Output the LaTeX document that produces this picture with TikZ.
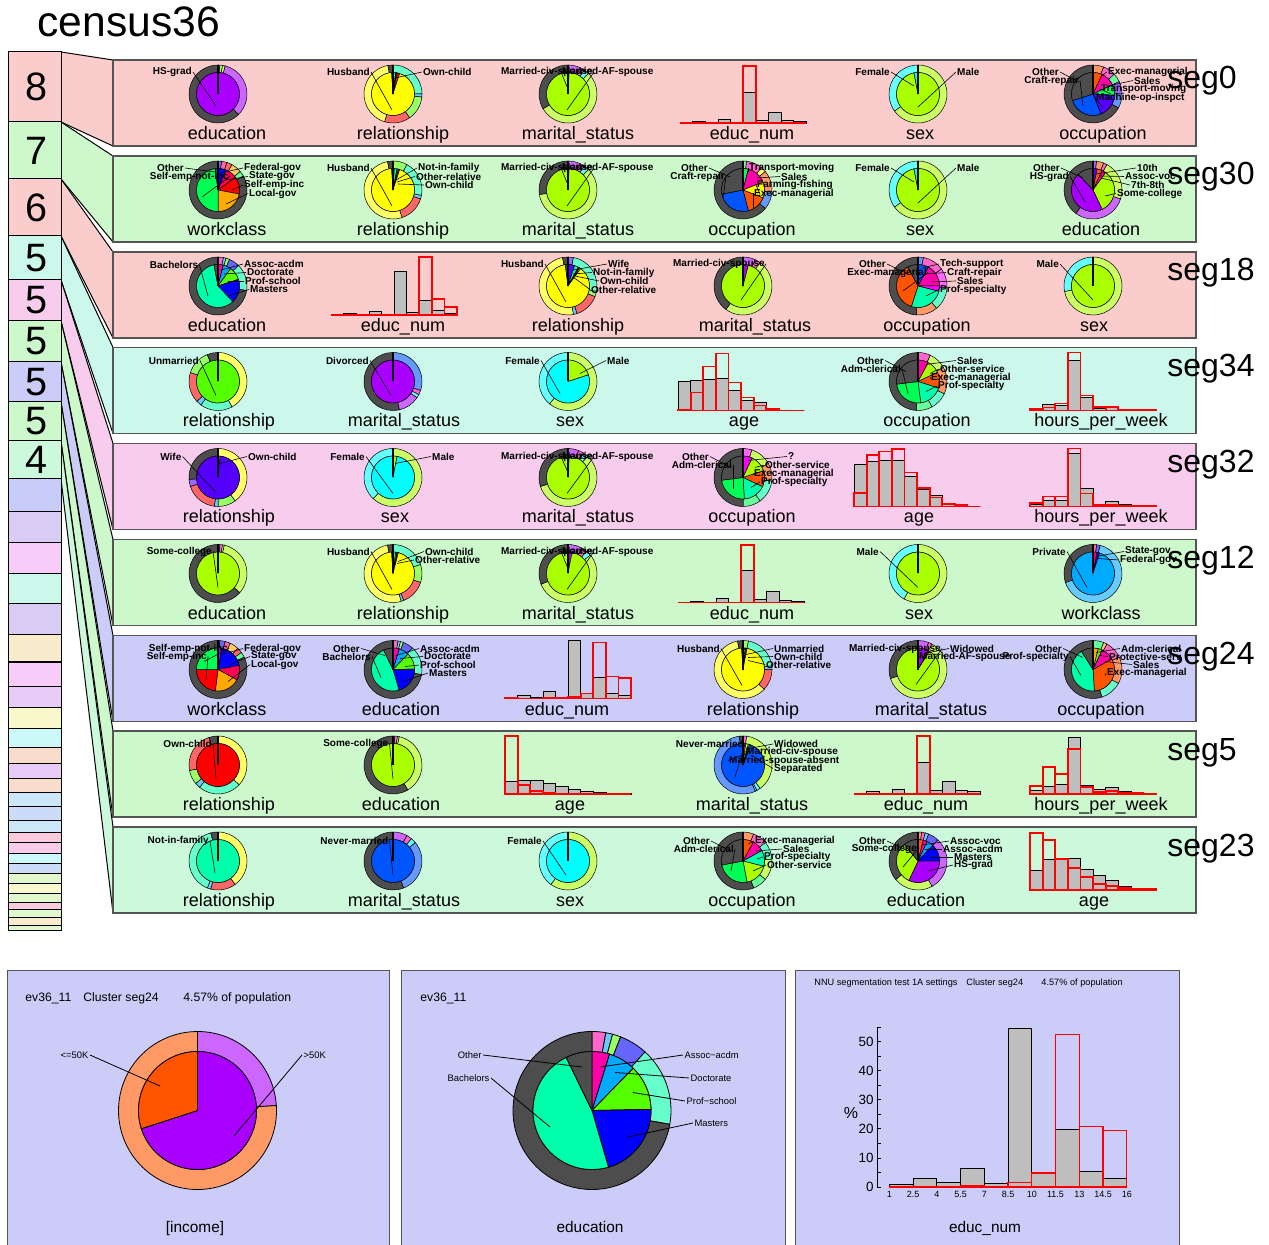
\documentclass[tikz,border=0pt]{standalone}
\usepackage{fontspec}
\setmainfont{Liberation Sans}
\definecolor{HS}{HTML}{AA00FF}
\definecolor{SC}{HTML}{AAFF00}
\definecolor{BA}{HTML}{00FFAA}
\definecolor{MA}{HTML}{0000FF}
\definecolor{AA}{HTML}{FF00AA}
\definecolor{DO}{HTML}{00AAFF}
\definecolor{PS}{HTML}{55FF00}
\definecolor{YE}{HTML}{FFFF00}
\definecolor{CY}{HTML}{00FFFF}
\definecolor{OT}{HTML}{4D4D4D}
\definecolor{RE}{HTML}{FF0000}
\definecolor{OR}{HTML}{FF5500}
\definecolor{AM}{HTML}{FFAA00}
\definecolor{VI}{HTML}{5500FF}
\definecolor{RB}{HTML}{0055FF}
\definecolor{GR}{HTML}{00FF55}
\definecolor{PK}{HTML}{FF00FF}
\definecolor{CR}{HTML}{FF0055}
\colorlet{HSl}{HS!60!white}\colorlet{SCl}{SC!60!white}\colorlet{BAl}{BA!60!white}
\colorlet{MAl}{MA!60!white}\colorlet{AAl}{AA!60!white}\colorlet{DOl}{DO!60!white}
\colorlet{PSl}{PS!60!white}\colorlet{YEl}{YE!60!white}\colorlet{CYl}{CY!60!white}
\colorlet{REl}{RE!60!white}\colorlet{ORl}{OR!60!white}\colorlet{AMl}{AM!60!white}
\colorlet{VIl}{VI!60!white}\colorlet{RBl}{RB!60!white}\colorlet{GRl}{GR!60!white}
\colorlet{PKl}{PK!60!white}\colorlet{CRl}{CR!60!white}
\definecolor{pPink}{HTML}{FACCCC}
\definecolor{pGreen}{HTML}{CCF8CC}
\definecolor{pMint}{HTML}{CCF8EC}
\definecolor{pRose}{HTML}{F8CCEC}
\definecolor{pBlue}{HTML}{CCCCF8}
\definecolor{pSea}{HTML}{CCF8DC}
\definecolor{pborder}{HTML}{555555}
\definecolor{histgray}{HTML}{BEBEBE}
\newcounter{lbc}
\newcounter{axc}
\newcommand\slicelist[3]{%
  \gdef\curang{-90}%
  \foreach \pv/\pc in {#3}{%
    \pgfmathsetmacro\nxt{\curang+\pv*3.6}%
    \ifdim #1pt=0pt\relax
      \filldraw[slice,fill=\pc] (0,0) -- (\curang:#2) arc[start angle=\curang,end angle=\nxt,radius=#2] -- cycle;
    \else
      \filldraw[slice,fill=\pc] (\curang:#1) -- (\curang:#2) arc[start angle=\curang,end angle=\nxt,radius=#2] -- (\nxt:#1) arc[start angle=\nxt,end angle=\curang,radius=#1] -- cycle;
    \fi
    \global\let\curang\nxt
  }%
}
\newcommand\mypie[5]{%
  \begin{scope}[shift={(#1,#2)}]
    \slicelist{21.5}{29}{#4}%
    \slicelist{0}{21.5}{#3}%
    \draw[line width=0.9pt] (0,0) -- (0,-29);
    \foreach \lx/\ly/\an/\tx/\ty/\ltxt in {#5}{%
      \stepcounter{lbc}%
      \node[plab,anchor=\an] (pl\thelbc) at (\lx,\ly) {\ltxt};
      \coordinate (pt\thelbc) at (\tx,\ty);
      \draw[pline] (pl\thelbc.\an) -- (pt\thelbc);
    }%
  \end{scope}%
}
\newcommand\myhist[4]{%
  \foreach \hh [count=\ii from 0] in {#3}{%
    \filldraw[fill=histgray,draw=black,line width=0.3pt] ({#1+\ii*12.6},#2) rectangle ++(12.6,-\hh);
  }%
  \foreach \hh [count=\ii from 0] in {#4}{%
    \draw[red,line width=0.9pt] ({#1+\ii*12.6},#2) rectangle ++(12.6,-\hh);
  }%
}
\newcommand\axl[3]{\stepcounter{axc}\node[axlab] (ax\theaxc) at (#1,#2) {#3};}
\newcommand\mypanel[6]{%
  \fill[#2] (61,#4) -- (113,#1) -- (113,{#1+86}) -- (61,#5) -- cycle;
  \draw[line width=0.5pt] (61,#4) -- (113,#1) (61,#5) -- (113,{#1+86});
  \filldraw[fill=#2,draw=pborder,line width=0.9pt] (113,#1) rectangle (1196,{#1+86});
  \node[seglab] (#6) at (1167,{#1+29}) {#3};
}
\begin{document}
\begin{tikzpicture}[x=0.5pt,y=-0.5pt,
  slice/.style={draw=black,line width=0.25pt},
  plab/.style={font=\fontsize{5}{5}\selectfont\bfseries,inner sep=0.4pt},
  pline/.style={line width=0.3pt},
  blab/.style={font=\fontsize{4.7}{5}\selectfont,inner sep=0.6pt},
  axlab/.style={font=\fontsize{9}{9}\selectfont,inner sep=0pt,anchor=base},
  seglab/.style={font=\fontsize{16}{16}\selectfont,inner sep=0pt,anchor=base west},
  numlab/.style={font=\fontsize{19.8}{20}\selectfont,inner sep=0pt},
  ttl/.style={font=\fontsize{6.1}{6}\selectfont,inner sep=0pt,anchor=west}]
\useasboundingbox (0,0) rectangle (1269,1245);
\fill[white] (0,0) rectangle (1269,1245);
\begin{scope}
\clip (0,0) rectangle (1269,1245);

\node[font=\fontsize{21.3}{22}\selectfont,inner sep=0pt,anchor=base west] (title) at (37,36.7) {census36};

% ---------- panels ----------
\mypanel{60}{pPink}{seg0}{52}{122}{s0}
\mypanel{156}{pGreen}{seg30}{122}{179}{s1}
\mypanel{252}{pPink}{seg18}{179}{236}{s2}
\mypanel{347.5}{pMint}{seg34}{236}{280}{s3}
\mypanel{443.5}{pRose}{seg32}{280}{321}{s4}
\mypanel{539.5}{pGreen}{seg12}{321}{362}{s5}
\mypanel{635.5}{pBlue}{seg24}{362}{402}{s6}
\mypanel{731}{pGreen}{seg5}{402}{441}{s7}
\mypanel{827}{pSea}{seg23}{441}{479}{s8}

% ---------- left column ----------
\foreach \ta/\tb/\cc/\nn [count=\k] in {52/122/pPink/8,122/179/pGreen/7,179/236/pPink/6,236/280/pMint/5,280/321/pRose/5,321/362/pGreen/5,362/402/pBlue/5,402/441/pGreen/5,441/479/pSea/4}{
  \filldraw[fill=\cc,draw=black,line width=0.5pt] (8,\ta) rectangle (61,\tb);
  \node[numlab] (num\k) at (37,{(\ta+\tb)/2}) {\nn};
}
\foreach \ta/\tb/\hc in {479/512/C8CCF8,512/543/D8CCF4,543/574/F8CCF8,574/604/CCF8EC,604/635/D8CCF4,635/662/F8ECCC,662/686/F8CCF8,686/707/E8CCF8,707/728/F8F8CC,728/747/CCF8F8,747/763/F8DCCC,763/778/E8CCF8,778/792/F8DCCC,792/806/CCE8F8,806/820/CCDCF8,820/832/CCE8F8,832/842/F8CCDC,842/853/F8CCE8,853/863/CCF8F8,863/873/CCDCF8,873/883/E0F8CC,883/893/F8F8CC,893/902/E0F8CC,902/909/F8CCDC,909/917/E0F8CC,917/925/F8ECCC,925/930/E0F8CC}{
  \edef\tmpdef{\noexpand\definecolor{tmpc}{HTML}{\hc}}\tmpdef
  \filldraw[fill=tmpc,draw=black,line width=0.5pt] (8,\ta) rectangle (61,\tb);
}

% ---------- seg0 ----------
\mypie{218}{94}{100/HS}{1/AAl,1.5/PSl,1.5/SCl,33.5/HSl,62.5/OT}{-25/-22/east/-2/12/HS-grad}
\mypie{393}{94}{2/BA,0.5/DO,0.5/PS,2/RE,94/YE,1/OT}{25/BAl,1.7/DOl,13.6/PSl,14.4/REl,42.5/YEl,2.8/OT}{-22/-22/east/-1/16/Husband,29/-22/west/2/-16/Own-child}
\mypie{568}{94}{0.5/HS,0.3/AA,99.2/SC}{7/HSl,2.5/AAl,3/CYl,54/SCl,33.5/OT}{26/-22/east/-1/16/Married-civ-spouse,-7/-22/west/0/-5/Married-AF-spouse}
\myhist{680}{123}{0.3,1.5,0,3.5,0,31,2.5,11,2.5,1.5}{0,0,0,0,0,57,0,0,0,0}
\mypie{918}{94}{97/SC,3/CY}{65/SCl,35/CYl}{-27/-22/east/-4/-8/Female,38/-22/west/0/13/Male}
\mypie{1093}{94}{7/OR,11/AA,8/GR,18/VI,26/RB,30/OT}{6/ORl,7/AAl,5/GRl,7/VIl,8/RBl,67/OT}{-33/-22/east/-14/-12/Other,-13/-13.5/east/-10/12/Craft-repair,14/-22/west/8/-18/Exec-managerial,40/-13.5/west/15/-8/Sales,7/-5/west/18/0/Transport-moving,2/3.5/west/10/14/Machine-op-inspct}
\axl{227}{139.5}{education}\axl{403}{139.5}{relationship}\axl{578}{139.5}{marital\_status}
\axl{752}{139.5}{educ\_num}\axl{920}{139.5}{sex}\axl{1103}{139.5}{occupation}

% ---------- seg30 ----------
\mypie{218}{190}{6/MA,9/CR,13/RE,22/AM,48/GR,2/OT}{2/MAl,3/CRl,3/REl,6/AMl,3/GRl,83/OT}{-33/-22/east/-3/-18/Other,12/-13.5/east/-16/7/Self-emp-not-inc,25/-22/west/3/-17/Federal-gov,30/-13.5/west/8/-10/State-gov,25/-5/west/14/0/Self-emp-inc,30/3.5/west/8/14/Local-gov}
\mypie{393}{190}{1/PS,2/BA,1/DO,1/RE,94/YE,1/OT}{8/PSl,20/BAl,2/DOl,15/REl,52/YEl,3/OT}{-22/-22/east/-1/16/Husband,24/-22/west/3/-10/Not-in-family,22/-13.5/west/4/-8/Other-relative,31/-5/west/5/-6/Own-child}
\mypie{568}{190}{0.5/HS,0.3/AA,99.2/SC}{7/HSl,2.5/AAl,3/CYl,60/SCl,27.5/OT}{26/-22/east/-1/16/Married-civ-spouse,-7/-22/west/0/-5/Married-AF-spouse}
\mypie{743}{190}{4/GR,15/AA,12/YE,15/OR,26/RB,28/OT}{2/GRl,9/AAl,3/YEl,12/ORl,10/RBl,64/OT}{-34/-22/east/-13/-13/Other,-17/-13.5/east/-20/8/Craft-repair,5/-22/west/5/-18/Transport-moving,37/-13.5/west/14/-12/Sales,13/-5/west/17/4/Farming-fishing,10/3.5/west/10/18/Exec-managerial}
\mypie{918}{190}{97/SC,3/CY}{65/SCl,35/CYl}{-27/-22/east/-4/-8/Female,38/-22/west/0/13/Male}
\mypie{1093}{190}{3/VI,4/OR,3/AA,33/SC,45/HS,12/OT}{2/VIl,4/ORl,2/AAl,22/SCl,30/HSl,40/OT}{-32/-22/east/-10/-12/Other,-23/-13.5/east/-8/12/HS-grad,43/-22/west/3/-16/10th,31/-13.5/west/6/-14/Assoc-voc,37/-5/west/8/-12/7th-8th,23/3.5/west/12/6/Some-college}
\axl{227}{235.5}{workclass}\axl{403}{235.5}{relationship}\axl{578}{235.5}{marital\_status}
\axl{752}{235.5}{occupation}\axl{920}{235.5}{sex}\axl{1101}{235.5}{education}

% ---------- seg18 ----------
\mypie{218}{286}{4/AA,6/DO,10/PS,18/MA,59/BA,3/OT}{3/AAl,1.5/DOl,2/PSl,6/MAl,15/BAl,72.5/OT}{-18.5/-21/east/-10/10/Bachelors,25/-22/west/3/-16/Assoc-acdm,28/-13.5/west/6/-12/Doctorate,26/-5/west/10/-5/Prof-school,31/3.5/west/10/10/Masters}
\myhist{331}{315}{1,2,0.5,4,0,44,3,15,5,2}{0,0,0,0,0,0,0,58,16,8}
\mypie{568}{286}{5/VI,3/BA,1/RE,1/PS,88/YE,2/OT}{3/VIl,25/BAl,3/PSl,14/REl,2/DOl,50/YEl,3/OT}{-23/-22/east/-2/16/Husband,39/-22/west/5/-16/Wife,24/-13.5/west/5/-12/Not-in-family,31/-5/west/7/-10/Own-child,22/3.5/west/5/-9/Other-relative}
\mypie{743}{286}{4/HS,96/SC}{7/HSl,3/AAl,50/SCl,40/OT}{23/-22/east/-2/14/Married-civ-spouse}
\mypie{918}{286}{8/RB,17/AA,4/PK,26/BA,37/OR,8/OT}{3/RBl,12/AAl,11/PKl,13/BAl,12/ORl,49/OT}{-31/-22/east/-10/-12/Other,10/-13.5/east/-15/5/Exec-managerial,21/-22/west/4/-18/Tech-support,28/-13.5/west/8/-12/Craft-repair,38/-5/west/14/-4/Sales,21/3.5/west/8/10/Prof-specialty}
\mypie{1093}{286}{100/SC}{72/SCl,28/CYl}{-33/-22/east/0/14/Male}
\axl{227}{331.5}{education}\axl{403}{331.5}{educ\_num}\axl{578}{331.5}{relationship}
\axl{755}{331.5}{marital\_status}\axl{927}{331.5}{occupation}\axl{1094}{331.5}{sex}

% ---------- seg34 ----------
\mypie{218}{381.5}{100/PS}{42/YEl,18/BAl,3/DOl,17/REl,14/PSl,6/OT}{-18/-21/east/-2/14/Unmarried}
\mypie{393}{381.5}{100/HS}{30/RBl,2.5/AAl,2/CYl,12/HSl,53.5/OT}{-23/-21/east/-2/14/Divorced}
\mypie{568}{381.5}{20/SC,80/CY}{61/SCl,39/CYl}{-27/-21/east/-8/12/Female,38/-21/west/12/-8/Male}
\myhist{678}{410.5}{29,30,31,32,20,10,8,2,0.5,0}{1,18,44,57,28,13,5,1.5,0,0}
\mypie{918}{381.5}{8/AA,10/SC,12/OR,18/BA,25/GR,27/OT}{7/AAl,10/SCl,15/ORl,10/BAl,9/GRl,49/OT}{-33/-21/east/-12/-10/Other,-16/-12.5/east/-10/12/Adm-clerical,38/-21/west/8/-17/Sales,21/-12.5/west/12/-8/Other-service,12/-4/west/14/-2/Exec-managerial,19/4.5/west/8/10/Prof-specialty}
\myhist{1030}{410.5}{2,6,5,50,13.6,2.4,4.4,1,0.5,0.3}{1.5,3,7,58,15,3.4,3.4,1,0.5,0.3}
\axl{229}{427}{relationship}\axl{404}{427}{marital\_status}\axl{570}{427}{sex}
\axl{744}{427}{age}\axl{927}{427}{occupation}\axl{1101}{427}{hours\_per\_week}

% ---------- seg32 ----------
\mypie{218}{477.5}{1.5/YE,98.5/VI}{40/YEl,10/PSl,2/DOl,18/REl,4/VIl,26/OT}{-35.5/-21/east/-2/15/Wife,29/-21/west/2/-14/Own-child}
\mypie{393}{477.5}{3/SC,97/CY}{62/SCl,38/CYl}{-27/-21/east/0/16/Female,38/-21/west/2/-14/Male}
\mypie{568}{477.5}{1/HS,99/SC}{6/HSl,3/AAl,3/CYl,58/SCl,30/OT}{26/-21/east/-1/16/Married-civ-spouse,-7/-21/west/0/-5/Married-AF-spouse}
\mypie{743}{477.5}{7/PK,13/SC,12/OR,17/BA,24/GR,27/OT}{5/PKl,12/SCl,10/ORl,13/BAl,10/GRl,50/OT}{-33/-21/east/-12/-10/Other,-10/-12.5/east/-10/12/Adm-clerical,44/-21/west/5/-17/?,21/-12.5/west/12/-10/Other-service,10/-4/west/14/-2/Exec-managerial,17/4.5/west/8/10/Prof-specialty}
\myhist{854}{506.5}{42,45,46,46.6,30,16.7,11.6,3.4,1.4,0}{13.6,51.7,55,57.8,34,18.4,9,2.4,1.4,0}
\myhist{1030}{506.5}{2.4,6.5,6.5,53,17.7,1.7,5,1.7,0.7,0.3}{3.4,10,10,58,13,1.7,1.7,1,0.5,0.5}
\axl{229}{523}{relationship}\axl{395}{523}{sex}\axl{578}{523}{marital\_status}
\axl{752}{523}{occupation}\axl{919}{523}{age}\axl{1101}{523}{hours\_per\_week}

% ---------- seg12 ----------
\mypie{218}{573.5}{100/SC}{1/HSl,1.5/AAl,1/PSl,33/SCl,63.5/OT}{-5/-22/east/0/14/Some-college}
\mypie{393}{573.5}{2/BA,1/PS,1/RE,95/YE,1/OT}{20/BAl,10/PSl,14/REl,1.5/DOl,51.5/YEl,3/OT}{-22/-22/east/-1/16/Husband,31/-22/west/5/-12/Own-child,21/-13.5/west/4/-10/Other-relative}
\mypie{568}{573.5}{3/HS,97/SC}{8/HSl,3/AAl,3/CYl,55/SCl,31/OT}{26/-22/east/-1/16/Married-civ-spouse,-7/-22/west/0/-5/Married-AF-spouse}
\myhist{678}{602.5}{0.3,1.5,0,4,0,32,3,11.5,2.5,1.5}{0,0,0,0,0,57.5,0,0,0,0}
\mypie{918}{573.5}{100/SC}{58/SCl,42/CYl}{-38/-22/east/0/14/Male}
\mypie{1093}{573.5}{3/CR,2/MA,95/DO}{2/CRl,2/MAl,66/DOl,30/OT}{-26/-22/east/-6/14/Private,31/-22/west/3/-17/State-gov,26/-13.5/west/5/-15/Federal-gov}
\axl{227}{619}{education}\axl{403}{619}{relationship}\axl{578}{619}{marital\_status}
\axl{752}{619}{educ\_num}\axl{919}{619}{sex}\axl{1101}{619}{workclass}

% ---------- seg24 ----------
\mypie{218}{669.5}{3/HS,19/MA,11/CR,19/AM,23/RE,25/GR}{1/HSl,3/MAl,3/CRl,5/AMl,3/REl,3/GRl,82/OT}{11/-21/east/-14/-8/Self-emp-not-inc,-10/-13/east/-12/10/Self-emp-inc,25/-21/west/4/-15/Federal-gov,32/-13/west/12/-5/State-gov,32/-5/west/10/12/Local-gov}
\mypie{393}{669.5}{4.8/AA,7.5/DO,12.4/PS,20.8/MA,47.3/BA,7.2/OT}{2.8/AAl,1.4/DOl,1.7/PSl,5.8/MAl,16.1/BAl,72.2/OT}{-32/-21/east/-8/-14/Other,-21/-13/east/-12/8/Bachelors,26/-21/west/3/-14/Assoc-acdm,30/-13/west/7/-11/Doctorate,26/-4.5/west/12/-3/Prof-school,35/3.5/west/10/12/Masters}
\myhist{505}{698.5}{0.7,3.2,1.6,6.9,1.3,58,4.8,21,5.6,3.2}{0.3,0.1,0.1,0.4,0.3,1.6,5.1,56,22,20.8}
\mypie{743}{669.5}{1/PS,1/BA,1/RE,96/YE,1/OT}{3/PSl,20/BAl,2/DOl,12/REl,60/YEl,3/OT}{-22/-21/east/-1/16/Husband,30/-21/west/3/-15/Unmarried,30/-13/west/5/-12/Own-child,22/-5/west/5/-9/Other-relative}
\mypie{918}{669.5}{8/HS,1/AA,91/SC}{6/HSl,2/AAl,62/SCl,30/OT}{24/-21/east/-2/15/Married-civ-spouse,31/-21/west/6/-16/Widowed,0/-13/west/8/-12/Married-AF-spouse}
\mypie{1093}{669.5}{4/AM,3/PS,10/AA,32/OR,42/BA,9/OT}{6/GRl,2/AMl,10/AAl,15/ORl,12/BAl,55/OT}{-30/-21/east/-10/-12/Other,-23/-13/east/-12/6/Prof-specialty,27/-21/west/3/-17/Adm-clerical,15/-13/west/6/-14/Protective-serv,39/-5/west/12/-8/Sales,13/3.5/west/12/6/Exec-managerial}
\axl{227}{715}{workclass}\axl{401}{715}{education}\axl{567}{715}{educ\_num}
\axl{753}{715}{relationship}\axl{931}{715}{marital\_status}\axl{1101}{715}{occupation}

% ---------- seg5 ----------
\mypie{218}{765}{100/RE}{37/YEl,24/BAl,3/DOl,8/PSl,23/REl,5/OT}{-5/-21/east/-2/13/Own-child}
\mypie{393}{765}{100/SC}{1/HSl,1.5/AAl,1/PSl,38/SCl,58.5/OT}{-3.5/-21/east/0/14/Some-college}
\myhist{505}{794}{12.3,14,14,10.7,7.3,4.7,3,1.7,0.7,0.3}{58,9,3.3,1.3,0.5,0.5,0.3,0.2,0.1,0}
\mypie{743}{765}{2/PK,2/SC,1/CY,1/DO,94/RB}{2/PKl,38/SCl,2/CYl,1/DOl,55/RBl,2/OT}{2/-21/east/-8/12/Never-married,30/-21/west/3/-16/Widowed,2/-13/west/5/-14/Married-civ-spouse,-15/-4.5/west/8/-13/Married-spouse-absent,30/3.5/west/8/-10/Separated}
\myhist{854}{794}{0.5,2.3,0,4.7,0,32,3.3,13,3.7,2.3}{0,0,0,0,0,58,0,0,0,0}
\myhist{1030}{794}{4,7.3,10,57,9,4.7,6.7,2.3,1.3,0.7}{8,26.7,20,44.7,6.7,2.3,3,1.3,0.7,0.3}
\axl{229}{810.5}{relationship}\axl{401}{810.5}{education}\axl{570}{810.5}{age}
\axl{752}{810.5}{marital\_status}\axl{926}{810.5}{educ\_num}\axl{1101}{810.5}{hours\_per\_week}

% ---------- seg23 ----------
\mypie{218}{861}{100/BA}{40/YEl,14/REl,2/DOl,40/BAl,4/OT}{-8/-20/east/-3/12/Not-in-family}
\mypie{393}{861}{100/RB}{8/HSl,3/AAl,3/CYl,30/RBl,56/OT}{-3.5/-20/east/0/14/Never-married}
\mypie{568}{861}{100/CY}{60/SCl,40/CYl}{-25/-20/east/-2/14/Female}
\mypie{743}{861}{8/OR,9/AA,12/BA,18/SC,25/GR,28/OT}{6/ORl,8/AAl,10/BAl,12/SCl,8/GRl,56/OT}{-32/-20/east/-12/-10/Other,-8/-12/east/-12/10/Adm-clerical,11/-20/west/5/-17/Exec-managerial,39/-12/west/12/-10/Sales,20/-4/west/14/-2/Prof-specialty,23/4/west/10/10/Other-service}
\mypie{918}{861}{4/OR,3/AA,5/DO,13/MA,32/HS,32/SC,11/OT}{2/ORl,2/AAl,2/DOl,6/MAl,30/HSl,22/SCl,36/OT}{-31/-20/east/-10/-10/Other,0/-12/east/-15/6/Some-college,31/-20/west/4/-16/Assoc-voc,24/-12/west/7/-12/Assoc-acdm,35/-4/west/12/-4/Masters,35/4/west/10/10/HS-grad}
\myhist{1030}{890}{19.3,31,32,32,21,14.3,9.3,3.3,1.7,1}{57,50,31,22,12.7,6,4.3,2,1,1}
\axl{229}{906.5}{relationship}\axl{404}{906.5}{marital\_status}\axl{570}{906.5}{sex}
\axl{752}{906.5}{occupation}\axl{926}{906.5}{education}\axl{1094}{906.5}{age}

% ---------- bottom panel 1 : income ----------
\filldraw[fill=pBlue,draw=pborder,line width=0.5pt] (7,970) rectangle (389,1255);
\node[ttl] (b1a) at (25,998) {ev36\_11};
\node[ttl] (b1b) at (83,998) {Cluster seg24};
\node[ttl] (b1c) at (183,998) {4.57\% of population};
\begin{scope}[shift={(197.5,1110.5)},slice/.style={draw=black,line width=0.4pt}]
  \slicelist{59}{79}{24/HSl,76/ORl}
  \slicelist{0}{59}{70/HS,30/OR}
  \node[blab,anchor=east] (inc1) at (-107.5,-55.5) {<=50K};
  \coordinate (inc1t) at (-37.5,-24.5);
  \draw[line width=0.4pt] (inc1.east) -- (inc1t);
  \node[blab,anchor=west] (inc2) at (104.5,-55.5) {>50K};
  \coordinate (inc2t) at (36.5,25.5);
  \draw[line width=0.4pt] (inc2.west) -- (inc2t);
\end{scope}
\node[font=\fontsize{7.7}{8}\selectfont,inner sep=0pt,anchor=base] (b1x) at (195,1232) {[income]};

% ---------- bottom panel 2 : education ----------
\filldraw[fill=pBlue,draw=pborder,line width=0.5pt] (401,970) rectangle (785,1255);
\node[ttl] (b2a) at (420,998) {ev36\_11};
\begin{scope}[shift={(592,1110.5)},slice/.style={draw=black,line width=0.4pt}]
  \slicelist{59}{79}{2.8/AAl,1.4/DOl,1.7/PSl,5.8/MAl,16.1/BAl,72.2/OT}
  \slicelist{0}{59}{4.8/AA,7.5/DO,12.4/PS,20.8/MA,47.3/BA,7.2/OT}
  \foreach \lx/\ly/\an/\tx/\ty/\ltxt [count=\q] in {-109/-55.5/east/-10/-43.5/Other,-101/-32.5/east/-42/16.5/Bachelors,91/-55.5/west/8/-43.5/Assoc−acdm,97/-32.5/west/23/-38/Doctorate,93/-9.5/west/41/-18/Prof−school,101/12.5/west/36/26.5/Masters}{
    \node[blab,anchor=\an] (ed\q) at (\lx,\ly) {\ltxt};
    \coordinate (edt\q) at (\tx,\ty);
    \draw[line width=0.4pt] (ed\q.\an) -- (edt\q);
  }
\end{scope}
\node[font=\fontsize{7.7}{8}\selectfont,inner sep=0pt,anchor=base] (b2x) at (590,1232) {education};

% ---------- bottom panel 3 : histogram ----------
\filldraw[fill=pBlue,draw=pborder,line width=0.5pt] (795,970) rectangle (1179,1255);
\node[font=\fontsize{4.6}{5}\selectfont,inner sep=0pt,anchor=west] (b3a) at (814,983) {NNU segmentation test 1A settings};
\node[font=\fontsize{4.6}{5}\selectfont,inner sep=0pt,anchor=west] (b3b) at (966,983) {Cluster seg24};
\node[font=\fontsize{4.6}{5}\selectfont,inner sep=0pt,anchor=west] (b3c) at (1041,983) {4.57\% of population};
\foreach \hh [count=\ii from 0] in {0.7,3,1.5,6.5,1.2,54.5,4.5,19.8,5.3,3}
  \filldraw[fill=histgray,draw=black,line width=0.5pt] ({889.3+\ii*23.75},1187) rectangle ++(23.75,{-\hh*2.91});
\foreach \hh [count=\ii from 0] in {0.3,0.1,0.1,0.4,0.3,1.5,4.8,52.5,20.8,19.5}
  \draw[red,line width=0.6pt] ({889.3+\ii*23.75},1187) rectangle ++(23.75,{-\hh*2.91});
\coordinate (ya) at (877,1187);
\coordinate (yb) at (877,1028);
\draw[line width=0.4pt] (ya) -- (yb);
\foreach \vv in {0,5,...,55} \draw[line width=0.4pt] (877,{1187-\vv*2.91}) -- ++(4,0);
\foreach \vv [count=\q] in {0,10,20,30,40,50}
  \node[font=\fontsize{6.7}{7}\selectfont,inner sep=0pt,anchor=east] (yt\q) at (874,{1187-\vv*2.91}) {\vv};
\foreach \tt [count=\ii from 0] in {1,2.5,4,5.5,7,8.5,10,11.5,13,14.5,16}
  \node[font=\fontsize{4.5}{5}\selectfont,inner sep=0pt] (xt\ii) at ({889.3+\ii*23.75},1194) {\tt};
\node[font=\fontsize{8}{8}\selectfont,inner sep=0pt] (pct) at (851,1113) {\%};
\node[font=\fontsize{7.7}{8}\selectfont,inner sep=0pt,anchor=base] (b3x) at (985,1232) {educ\_num};
\end{scope}
\end{tikzpicture}
\end{document}
